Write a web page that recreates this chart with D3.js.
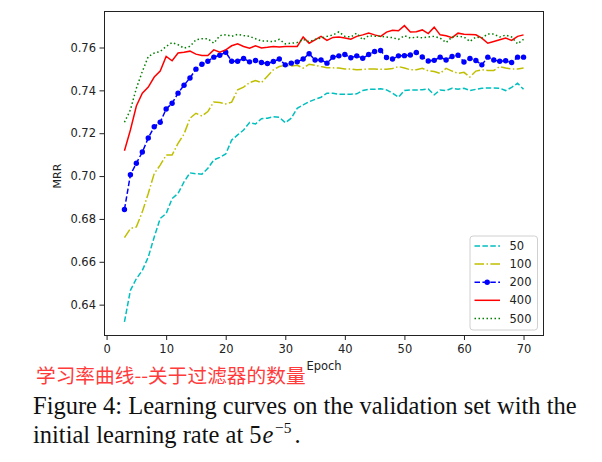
<!DOCTYPE html>
<html><head><meta charset="utf-8">
<script src="https://cdn.jsdelivr.net/npm/d3@7"></script>
<style>body{margin:0;background:#fff}svg{display:block}</style>
</head><body>
<svg id="chart" width="602" height="462"></svg>
<script>
const epochs = d3.range(3, 71);
const xTicks = [0, 10, 20, 30, 40, 50, 60, 70];
const yTicks = [0.64, 0.66, 0.68, 0.70, 0.72, 0.74, 0.76];
const seriesNames = ["50", "100", "200", "400", "500"];

const mrr50 = [0.632,0.6467,0.6521,0.656,0.6622,0.6716,0.6802,0.6825,0.6895,0.6919,0.6973,0.7015,0.7011,0.7009,0.7036,0.7075,0.7087,0.7103,0.7168,0.7192,0.7215,0.725,0.7243,0.7268,0.727,0.7277,0.7274,0.7249,0.727,0.7316,0.7332,0.7347,0.7358,0.7368,0.7387,0.7387,0.7382,0.7382,0.7382,0.7384,0.7399,0.7405,0.7405,0.7408,0.7402,0.7387,0.7368,0.7399,0.7402,0.7402,0.7403,0.7406,0.7379,0.7402,0.7399,0.741,0.7405,0.741,0.7399,0.7405,0.741,0.7411,0.7411,0.741,0.7399,0.7414,0.7433,0.7405];
const mrr100 = [0.6713,0.6755,0.6763,0.6833,0.6919,0.7012,0.7051,0.7098,0.7098,0.7153,0.7196,0.727,0.7293,0.728,0.7301,0.7346,0.7343,0.7337,0.7345,0.7402,0.7415,0.7436,0.7446,0.7436,0.7466,0.7496,0.7511,0.7517,0.7514,0.7517,0.7504,0.7522,0.7517,0.7511,0.7506,0.7505,0.7504,0.75,0.75,0.7496,0.7498,0.75,0.75,0.7498,0.7498,0.7502,0.7511,0.7504,0.7496,0.7496,0.7503,0.7491,0.7488,0.7479,0.7503,0.749,0.7479,0.7484,0.7462,0.749,0.7496,0.7493,0.7493,0.7511,0.7504,0.75,0.75,0.7504];
const mrr200 = [0.6844,0.7006,0.706,0.7112,0.7178,0.723,0.7251,0.7313,0.734,0.7387,0.7424,0.7458,0.7499,0.7522,0.7536,0.7555,0.7564,0.7578,0.7536,0.7536,0.7549,0.7533,0.7539,0.753,0.7525,0.7535,0.7546,0.7519,0.7527,0.7533,0.7546,0.7571,0.7542,0.7542,0.7527,0.7555,0.7561,0.7567,0.7552,0.7561,0.755,0.7567,0.7581,0.7586,0.7553,0.7546,0.7561,0.7562,0.7565,0.7577,0.7556,0.7537,0.754,0.7555,0.7542,0.7558,0.7564,0.7532,0.7549,0.7539,0.7519,0.7555,0.7542,0.7536,0.7538,0.753,0.7555,0.7555];
const mrr400 = [0.7118,0.7215,0.7327,0.7387,0.7415,0.7462,0.749,0.7558,0.7538,0.7574,0.7578,0.7583,0.7569,0.7563,0.7563,0.7589,0.7578,0.7589,0.7608,0.7617,0.7605,0.7597,0.7608,0.7598,0.7601,0.7605,0.7602,0.7605,0.7605,0.7605,0.7649,0.762,0.7636,0.7652,0.7633,0.7647,0.7649,0.7644,0.7639,0.7652,0.7659,0.7667,0.7659,0.7652,0.7672,0.768,0.7678,0.7702,0.7672,0.7674,0.7682,0.7665,0.7695,0.7659,0.7655,0.7646,0.7667,0.7662,0.7661,0.7659,0.7644,0.762,0.7628,0.7636,0.7644,0.7633,0.7652,0.7659];
const mrr500 = [0.7251,0.7309,0.741,0.7488,0.7558,0.7574,0.7581,0.7605,0.7623,0.7613,0.7597,0.7605,0.7636,0.7641,0.7641,0.762,0.7655,0.766,0.7652,0.7661,0.7656,0.7652,0.7641,0.763,0.763,0.7627,0.7638,0.7617,0.762,0.7623,0.7638,0.7627,0.7638,0.7644,0.7652,0.7658,0.7673,0.7652,0.7649,0.7667,0.7636,0.7655,0.7652,0.7652,0.7649,0.7646,0.7638,0.7655,0.7644,0.7649,0.7645,0.7649,0.7652,0.7644,0.7623,0.7649,0.7652,0.7649,0.7628,0.7649,0.7644,0.7663,0.7663,0.7649,0.7658,0.7649,0.7617,0.7638];

const seriesValues = [mrr50, mrr100, mrr200, mrr400, mrr500];
const styles = [
  {color:"#00bfbf", dash:"5.5,2.4", marker:false},
  {color:"#bfbf00", dash:"9.6,2.4,1.5,2.4", marker:false},
  {color:"#0000ff", dash:"5.5,2.4", marker:true},
  {color:"#ff0000", dash:null, marker:false},
  {color:"#008000", dash:"1.5,2.5", marker:false}
];

const svg = d3.select("#chart");
const L = 104.5, R = 543.5, T = 11.5, B = 335.5;
const x = d3.scaleLinear().domain([-0.35, 73.35]).range([L, R]);
const y = d3.scaleLinear().domain([0.6256, 0.7768]).range([B, T]);

const font = "'DejaVu Sans', sans-serif";

// axes
const xAxis = svg.append("g").attr("transform", `translate(0,${B})`)
  .call(d3.axisBottom(x).tickValues(xTicks).tickFormat(d3.format("d")).tickSize(4.5).tickPadding(5).tickSizeOuter(0));
const yAxis = svg.append("g").attr("transform", `translate(${L},0)`)
  .call(d3.axisLeft(y).tickValues(yTicks).tickFormat(d3.format(".2f")).tickSize(5).tickPadding(3.5).tickSizeOuter(0));
[xAxis, yAxis].forEach(g => {
  g.select(".domain").remove();
  g.selectAll("line").attr("stroke", "#222");
  g.selectAll("text").attr("fill", "#222").style("font-family", font).style("font-size", "11.5px");
});

// lines
const clip = svg.append("clipPath").attr("id", "clip").append("rect")
  .attr("x", L).attr("y", T).attr("width", R - L).attr("height", B - T);
const plot = svg.append("g").attr("clip-path", "url(#clip)");
const lineGen = d3.line().x((d, i) => x(epochs[i])).y(d => y(d));
seriesValues.forEach((vals, k) => {
  const st = styles[k];
  plot.append("path").datum(vals).attr("d", lineGen)
    .attr("fill", "none").attr("stroke", st.color).attr("stroke-width", 1.5)
    .attr("stroke-dasharray", st.dash);
  if (st.marker) {
    plot.selectAll(null).data(vals).enter().append("circle")
      .attr("cx", (d, i) => x(epochs[i])).attr("cy", d => y(d)).attr("r", 2.7)
      .attr("fill", st.color);
  }
});

// frame
svg.append("rect").attr("x", L).attr("y", T).attr("width", R - L).attr("height", B - T)
  .attr("fill", "none").attr("stroke", "#222").attr("stroke-width", 1);

// legend
const lg = svg.append("g");
lg.append("rect").attr("x", 470).attr("y", 236).attr("width", 67.5).attr("height", 94)
  .attr("rx", 3).attr("fill", "#fff").attr("fill-opacity", 0.8).attr("stroke", "#d0d0d0");
seriesNames.forEach((name, k) => {
  const st = styles[k];
  const yy = 246 + k * 18.1;
  lg.append("line").attr("x1", 474.5).attr("x2", 500).attr("y1", yy).attr("y2", yy)
    .attr("stroke", st.color).attr("stroke-width", 1.5).attr("stroke-dasharray", st.dash);
  if (st.marker) lg.append("circle").attr("cx", 487.2).attr("cy", yy).attr("r", 2.7).attr("fill", st.color);
  lg.append("text").attr("x", 509.5).attr("y", yy).attr("dy", "0.36em").text(name)
    .style("font-family", font).style("font-size", "11.5px").attr("fill", "#222");
});

// axis titles
svg.append("text").attr("transform", "translate(61,176) rotate(-90)").attr("text-anchor", "middle")
  .text("MRR").style("font-family", font).style("font-size", "11px").attr("fill", "#222");
svg.append("text").attr("x", (L + R) / 2).attr("y", 370).attr("text-anchor", "middle")
  .text("Epoch").style("font-family", font).style("font-size", "11.5px").attr("fill", "#222");

// red annotation
svg.append("text").attr("x", 36).attr("y", 382.5).text("学习率曲线--关于过滤器的数量")
  .style("font-family", "'Noto Sans CJK SC', sans-serif").style("font-size", "19.7px").attr("fill", "#ff3b3b");

// caption
const serif = "'Liberation Serif', 'Times New Roman', serif";
svg.append("text").attr("x", 33).attr("y", 414)
  .text("Figure 4: Learning curves on the validation set with the")
  .style("font-family", serif).style("font-size", "24.5px").attr("fill", "#111");
const c2 = svg.append("text").attr("x", 33).attr("y", 442.5)
  .style("font-family", serif).style("font-size", "24.5px").attr("fill", "#111");
c2.append("tspan").text("initial learning rate at ");
c2.append("tspan").text("5");
c2.append("tspan").text("e").style("font-style", "italic").attr("dx", 1);
c2.append("tspan").text("−5").style("font-size", "15.5px").attr("dy", -10).attr("dx", 1.5);
c2.append("tspan").text(".").attr("dy", 10).attr("dx", 3);
</script>
</body></html>
